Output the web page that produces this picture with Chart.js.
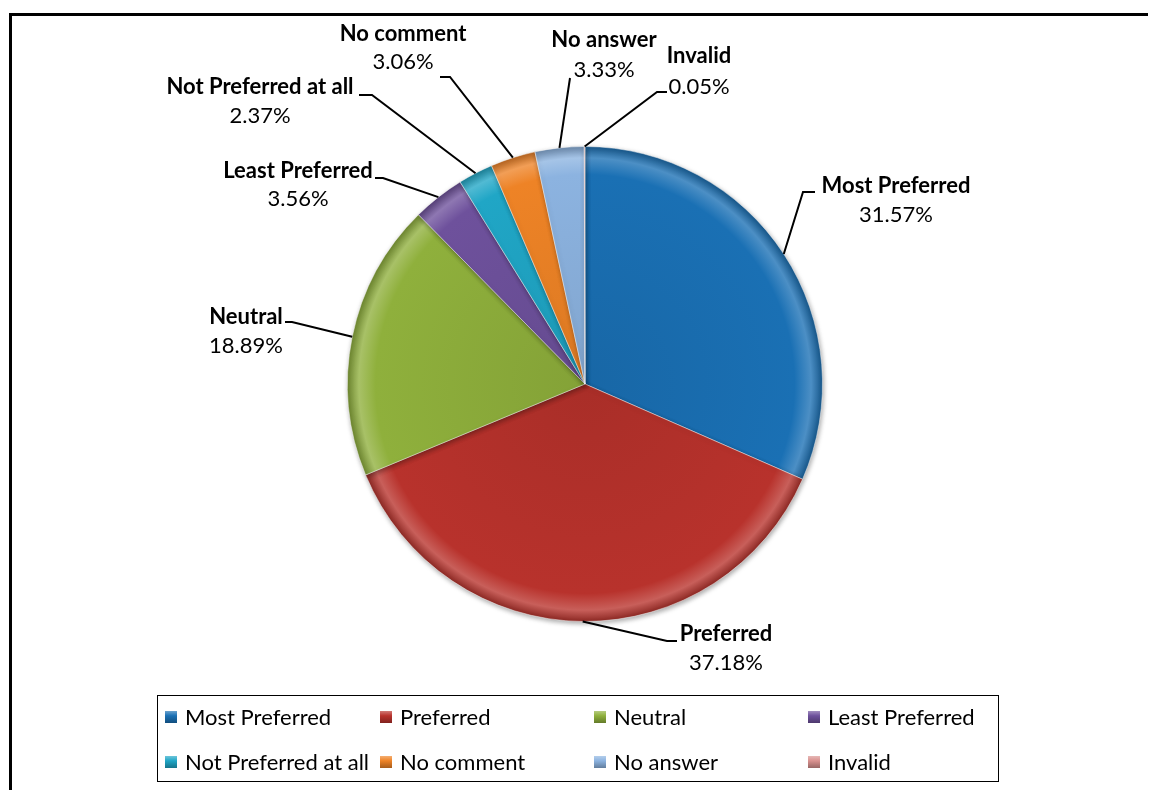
<!DOCTYPE html>
<html>
<head>
<meta charset="utf-8">
<script src="https://cdn.jsdelivr.net/npm/chart.js@4/dist/chart.umd.min.js"></script>
<style>
  html, body { margin: 0; padding: 0; background: #fff; }
  #wrap { position: relative; width: 1149px; height: 790px; }
</style>
</head>
<body>
<div id="wrap"><canvas id="chartPie"></canvas></div>
<script>
// data
const categories = ['Most Preferred', 'Preferred', 'Neutral', 'Least Preferred',
    'Not Preferred at all', 'No comment', 'No answer', 'Invalid'];
const shares = [31.57, 37.18, 18.89, 3.56, 2.37, 3.06, 3.33, 0.05];
const sliceColors = ['#1a70b4', '#b8322c', '#8fb03c', '#6e519c', '#20a6c6', '#ee8326', '#8cb3e0', '#d9918f'];

// callout layout: text centre x, name line y, percent line y, elbow point, end of short tick
const callouts = [
    { cx: 896, ny: 186, py: 215, elbow: [803, 192], tick: [815, 192] },
    { cx: 726, ny: 634, py: 663, elbow: [667, 641], tick: [677, 641] },
    { cx: 246, ny: 317, py: 346, elbow: [292, 322], tick: [285, 322] },
    { cx: 298, ny: 171, py: 199, elbow: [383, 178], tick: [375, 178] },
    { cx: 260, ny: 87,  py: 116, elbow: [372, 95],  tick: [359, 95] },
    { cx: 403, ny: 34,  py: 62,  elbow: [450, 77],  tick: [440, 77] },
    { cx: 604, ny: 40,  py: 70,  elbow: [570, 78],  tick: [570, 78] },
    { cx: 699, ny: 56,  py: 87,  elbow: [657, 92],  tick: [667, 92] }
];

const FONT = 'Lato, "Liberation Sans", sans-serif';

function shade(hex, amt) {
    const n = parseInt(hex.slice(1), 16);
    const f = c => Math.max(0, Math.min(255, Math.round(amt >= 0 ? c + (255 - c) * amt : c * (1 + amt))));
    return `rgb(${f(n >> 16)},${f((n >> 8) & 255)},${f(n & 255)})`;
}

function sliceFill(ctx) {
    const chart = ctx.chart;
    const base = sliceColors[ctx.dataIndex];
    const area = chart.chartArea;
    if (!area) return base;
    const cx = (area.left + area.right) / 2, cy = (area.top + area.bottom) / 2;
    const r = Math.min(area.right - area.left, area.bottom - area.top) / 2;
    const g = chart.ctx.createRadialGradient(cx, cy, 0, cx, cy, r);
    g.addColorStop(0, shade(base, -0.08));
    g.addColorStop(0.88, base);
    g.addColorStop(0.95, shade(base, 0.22));
    g.addColorStop(1, shade(base, -0.25));
    return g;
}

const calloutPlugin = {
    id: 'callouts',
    beforeDatasetDraw(chart) {
        const c = chart.ctx;
        c.save();
        c.shadowColor = 'rgba(0,0,0,0.35)';
        c.shadowBlur = 5;
        c.shadowOffsetX = 1;
        c.shadowOffsetY = 2;
    },
    afterDatasetDraw(chart) {
        chart.ctx.restore();
    },
    afterDraw(chart) {
        const c = chart.ctx;
        const arcs = chart.getDatasetMeta(0).data;
        c.save();
        // frame
        c.fillStyle = '#000';
        c.fillRect(9, 13, 1139, 3);
        c.fillRect(9, 13, 3, 790);

        // leader lines + labels
        c.strokeStyle = '#000';
        c.lineWidth = 2;
        arcs.forEach((arc, i) => {
            const lay = callouts[i];
            const mid = (arc.startAngle + arc.endAngle) / 2;
            const ax = arc.x + Math.cos(mid) * arc.outerRadius;
            const ay = arc.y + Math.sin(mid) * arc.outerRadius;
            c.beginPath();
            c.moveTo(ax, ay);
            c.lineTo(lay.elbow[0], lay.elbow[1]);
            c.lineTo(lay.tick[0], lay.tick[1]);
            c.stroke();

            c.fillStyle = '#000';
            c.textAlign = 'center';
            c.textBaseline = 'middle';
            c.font = 'bold 22px ' + FONT;
            c.fillText(categories[i], lay.cx, lay.ny);
            c.font = '22px ' + FONT;
            c.fillText(shares[i].toFixed(2) + '%', lay.cx, lay.py);
        });

        // legend box
        c.lineWidth = 1;
        c.strokeRect(157.5, 695.5, 841, 86);
        const cols = [165, 380, 594, 808];
        const rows = [717, 762];
        c.textAlign = 'left';
        c.font = '22px ' + FONT;
        categories.forEach((name, i) => {
            const x = cols[i % 4], y = rows[Math.floor(i / 4)];
            const g = c.createLinearGradient(0, y - 6, 0, y + 6);
            g.addColorStop(0, shade(sliceColors[i], 0.35));
            g.addColorStop(0.4, sliceColors[i]);
            g.addColorStop(1, shade(sliceColors[i], -0.3));
            c.fillStyle = g;
            c.fillRect(x, y - 6, 12, 12);
            c.fillStyle = '#000';
            c.fillText(name, x + 20, y + 1);
        });
        c.restore();
    }
};

new Chart(document.getElementById('chartPie'), {
    type: 'pie',
    data: {
        labels: categories,
        datasets: [{
            data: shares,
            backgroundColor: sliceFill,
            borderColor: 'rgba(255,255,255,0.45)',
            borderWidth: 1,
            clip: false
        }]
    },
    options: {
        responsive: true,
        maintainAspectRatio: false,
        animation: false,
        layout: { padding: { left: 347, right: 326, top: 146, bottom: 168 } },
        plugins: {
            legend: { display: false },
            tooltip: { enabled: false }
        }
    },
    plugins: [calloutPlugin]
});
</script>
</body>
</html>
